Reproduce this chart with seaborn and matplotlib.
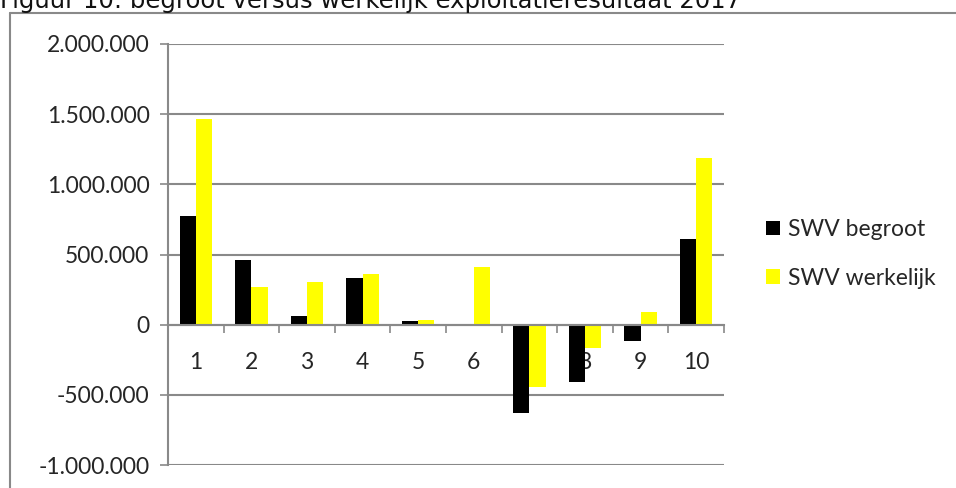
import pandas as pd
import matplotlib
matplotlib.use("Agg")
import matplotlib.pyplot as plt
import seaborn as sns
from matplotlib.ticker import FuncFormatter, FixedLocator
from matplotlib.lines import Line2D
from matplotlib.patches import Patch

# data
categories = ["1", "2", "3", "4", "5", "6", "7", "8", "9", "10"]
swv_begroot = [775000, 462000, 62000, 330000, 26000, -4000, -630000, -405000, -116000, 607000]
swv_werkelijk = [1468000, 268000, 304000, 363000, 36000, 410000, -445000, -166000, 93000, 1186000]
series_names = ["SWV begroot", "SWV werkelijk"]
colors = ["#000000", "#FFFF00"]
title = "Figuur 10: begroot versus werkelijk exploitatieresultaat 2017"

df = pd.DataFrame({
    "cat": categories * 2,
    "value": swv_begroot + swv_werkelijk,
    "series": [series_names[0]] * len(categories) + [series_names[1]] * len(categories),
})

sns.set_style("white")
plt.rcParams["font.family"] = ["Lato", "DejaVu Sans"]
grid_col = "#898989"
fs = 16.5

fig = plt.figure(figsize=(9.56, 4.88), dpi=100)
ax = fig.add_axes([168 / 956, 1 - 465 / 488, (724 - 168) / 956, (465 - 44) / 488])

sns.barplot(data=df, x="cat", y="value", hue="series", palette=colors, saturation=1,
            width=0.58, order=categories, hue_order=series_names,
            linewidth=0, ax=ax, legend=False)

ax.set_xlim(-0.5, len(categories) - 0.5)
ax.set_ylim(-1000000, 2000000)
ax.set_yticks(range(-1000000, 2000001, 500000))
ax.yaxis.set_major_formatter(FuncFormatter(lambda v, p: f"{int(v):,}".replace(",", ".")))
ax.yaxis.grid(True, color=grid_col, linewidth=1.5)
ax.set_axisbelow(True)
ax.set_xlabel("")
ax.set_ylabel("")

for s in ["top", "right"]:
    ax.spines[s].set_visible(False)
ax.spines["left"].set_color(grid_col)
ax.spines["left"].set_linewidth(1.5)
ax.spines["bottom"].set_position(("data", 0))
ax.spines["bottom"].set_color(grid_col)
ax.spines["bottom"].set_linewidth(1.5)

# category boundary ticks (Excel style), labels centred below the zero line
ax.xaxis.set_major_locator(FixedLocator([i - 0.5 for i in range(len(categories) + 1)]))
ax.xaxis.set_major_formatter(FuncFormatter(lambda v, p: ""))
ax.xaxis.set_minor_locator(FixedLocator(range(len(categories))))
ax.set_xticklabels(categories, minor=True)
ax.tick_params(axis="x", which="major", direction="out", length=5.8, width=1.2, color=grid_col, bottom=True)
ax.tick_params(axis="x", which="minor", length=0, pad=20, labelsize=fs, bottom=True)
ax.tick_params(axis="y", direction="out", length=5.8, width=1.2, color=grid_col, left=True,
               labelsize=fs, pad=7.5)

handles = [Patch(facecolor=c, edgecolor="none") for c in colors]
fig.legend(handles, series_names, loc="center left", bbox_to_anchor=(757 / 956, 1 - 254 / 488),
           frameon=False, fontsize=fs, handlelength=0.6, handleheight=0.6,
           handletextpad=0.35, labelspacing=1.2, borderaxespad=0)

# outer chart border (only top and left are inside the picture)
fig.add_artist(Line2D([10 / 956, 10 / 956], [0, 1 - 13 / 488], transform=fig.transFigure,
                      color=grid_col, linewidth=1.5))
fig.add_artist(Line2D([10 / 956, 1], [1 - 13 / 488, 1 - 13 / 488], transform=fig.transFigure,
                      color=grid_col, linewidth=1.5))

fig.text(0, 1 - 8 / 488, title, ha="left", va="baseline", fontsize=17.5,
         family=["DejaVu Sans"], color="#111111")

fig.savefig("out.png", dpi=100)
